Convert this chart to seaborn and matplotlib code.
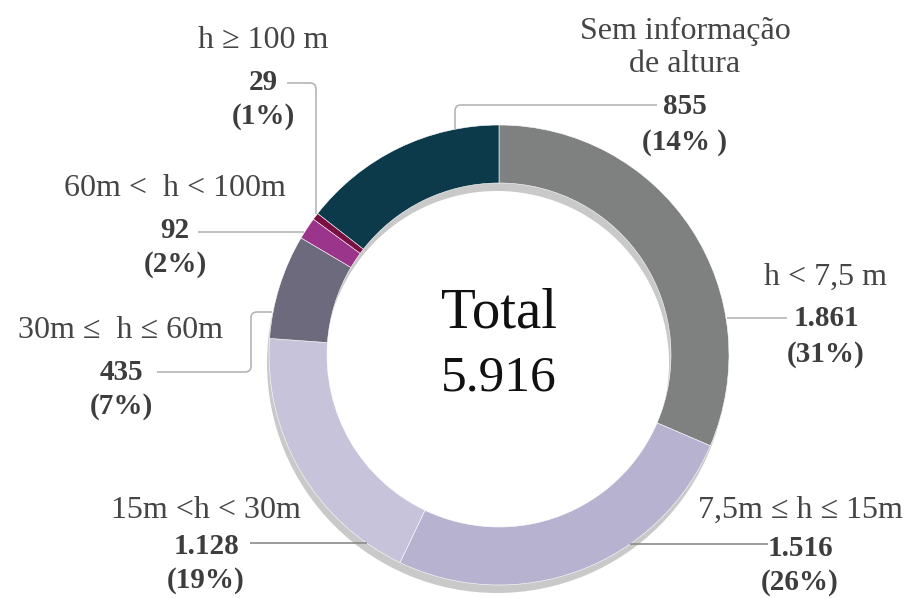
import numpy as np
import matplotlib
matplotlib.use("Agg")
import matplotlib.pyplot as plt
import seaborn as sns
from matplotlib.path import Path
from matplotlib.patches import PathPatch

# data, clockwise from 12 o'clock
categories = ["h < 7,5 m", "7,5m ≤ h ≤ 15m", "15m <h < 30m", "30m ≤  h ≤ 60m",
              "60m <  h < 100m", "h ≥ 100 m", "Sem informação\nde altura"]
counts = [1861, 1516, 1128, 435, 92, 29, 855]
pct_labels = ["(31%)", "(26%)", "(19%)", "(7%)", "(2%)", "(1%)", "(14% )"]
colors = ["#7f8080", "#b6b2d0", "#c6c3da", "#6c6a7c", "#9b358b", "#7a0f42", "#0c3a4b"]

sns.set_theme(style="white")
plt.rcParams["font.family"] = ["Liberation Serif", "DejaVu Serif"]

W, H = 907, 598
fig = plt.figure(figsize=(W / 100, H / 100), dpi=100)
ax = fig.add_axes([0, 0, 1, 1])


def P(x, y):
    # pixel coords (from top-left) -> data coords
    return x, H - y


cx, cy = P(499, 355)
R, ring = 230, 58

# shadow ring
ax.pie([1], colors=["#c9c9c9"], radius=R, center=(cx - 2, cy - 8),
       wedgeprops=dict(width=ring, edgecolor="none"), frame=True)
ax.pie(counts, colors=colors, radius=R, center=(cx, cy), startangle=90,
       counterclock=False,
       wedgeprops=dict(width=ring, edgecolor="white", linewidth=0.4), frame=True)
ax.set_xlim(0, W)
ax.set_ylim(0, H)
ax.set_aspect("equal")
ax.axis("off")

total = sum(counts)
ax.text(*P(499, 313), "Total", ha="center", va="center", fontsize=41, color="#111111")
ax.text(*P(499, 378), f"{total:,}".replace(",", "."), ha="center", va="center",
        fontsize=37, color="#111111")

# label layout: (label y, value y, pct y, center x)
layout = [
    (277, 318, 355, 826),
    (510, 549, 583, 800),
    (510, 547, 581, 206),
    (330, 373, 407, 121),
    (188, 230, 265, 175),
    (40, 82, 117, 263),
    (48, 107, 143, 685),
]
# leader polylines in pixel coords (ring end last)
leaders = [
    [(787, 318), (727, 318)],
    [(768, 544), (630, 544)],
    [(250, 543), (367, 543)],
    [(157, 372), (251, 372), (251, 312), (272, 312)],
    [(198, 232), (304, 232)],
    [(287, 83), (316, 83), (316, 214)],
    [(657, 105), (455, 105), (455, 129)],
]


def rounded(points, r=6):
    verts = [points[0]]
    codes = [Path.MOVETO]
    for i in range(1, len(points) - 1):
        p0, p1, p2 = (np.array(points[j], float) for j in (i - 1, i, i + 1))
        d1 = (p0 - p1) / np.linalg.norm(p0 - p1)
        d2 = (p2 - p1) / np.linalg.norm(p2 - p1)
        verts += [tuple(p1 + d1 * r), tuple(p1), tuple(p1 + d2 * r)]
        codes += [Path.LINETO, Path.CURVE3, Path.CURVE3]
    verts.append(points[-1])
    codes.append(Path.LINETO)
    return Path([P(*v) for v in verts], codes)


for i, (cat, n, pct) in enumerate(zip(categories, counts, pct_labels)):
    ly, vy, py, x = layout[i]
    lc = "#8a8a8a" if i in (1, 2) else "#b5b5b5"
    ax.add_patch(PathPatch(rounded(leaders[i]), fill=False, edgecolor=lc, lw=1.2, zorder=5))
    ax.text(*P(x, ly), cat, ha="center", va="center", fontsize=23, color="#454545",
            linespacing=1.2)
    ax.text(*P(x, vy), f"{n:,}".replace(",", "."), ha="center", va="center",
            fontsize=21, fontweight="bold", color="#3d3d3d")
    ax.text(*P(x, py), pct, ha="center", va="center", fontsize=21,
            fontweight="bold", color="#3d3d3d")

fig.savefig("out.png", dpi=100, facecolor="white")
